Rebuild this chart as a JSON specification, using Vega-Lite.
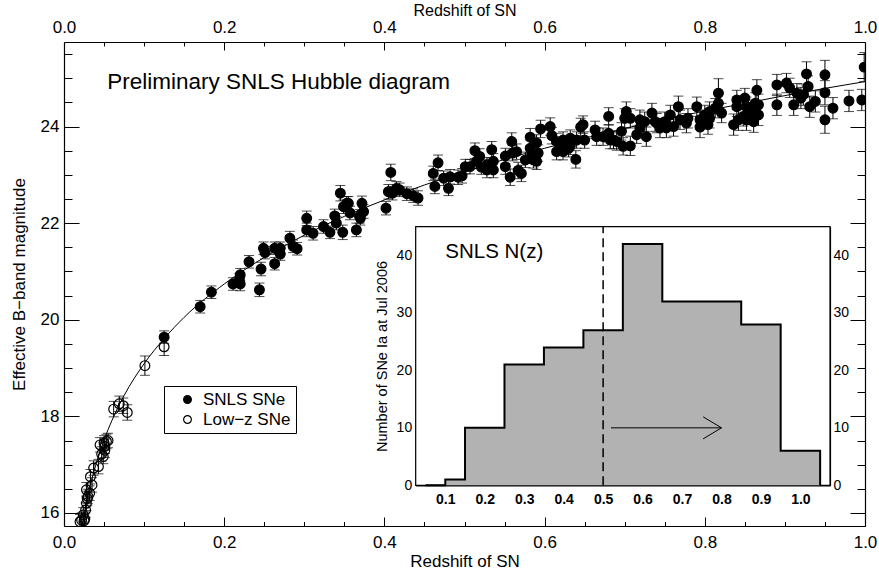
{
"$schema": "https://vega.github.io/schema/vega-lite/v6.json",
"width": 801, "height": 484,
"autosize": {"type": "none"},
"padding": {"left": 64, "top": 42, "right": 14, "bottom": 49},
"background": "white",
"datasets": {
"sne": [
{"z":0.020,"m":15.82,"e":0.15,"s":"Low−z SNe"},{"z":0.022,"m":15.85,"e":0.15,"s":"Low−z SNe"},{"z":0.025,"m":15.84,"e":0.15,"s":"Low−z SNe"},{"z":0.026,"m":15.87,"e":0.15,"s":"Low−z SNe"},{"z":0.024,"m":15.96,"e":0.15,"s":"Low−z SNe"},{"z":0.027,"m":16.06,"e":0.15,"s":"Low−z SNe"},{"z":0.028,"m":16.20,"e":0.15,"s":"Low−z SNe"},{"z":0.029,"m":16.30,"e":0.15,"s":"Low−z SNe"},{"z":0.030,"m":16.34,"e":0.15,"s":"Low−z SNe"},{"z":0.028,"m":16.48,"e":0.15,"s":"Low−z SNe"},{"z":0.032,"m":16.41,"e":0.15,"s":"Low−z SNe"},{"z":0.035,"m":16.58,"e":0.15,"s":"Low−z SNe"},{"z":0.033,"m":16.75,"e":0.15,"s":"Low−z SNe"},{"z":0.037,"m":16.93,"e":0.15,"s":"Low−z SNe"},{"z":0.043,"m":16.96,"e":0.15,"s":"Low−z SNe"},{"z":0.047,"m":17.22,"e":0.15,"s":"Low−z SNe"},{"z":0.049,"m":17.17,"e":0.15,"s":"Low−z SNe"},{"z":0.051,"m":17.30,"e":0.15,"s":"Low−z SNe"},{"z":0.045,"m":17.41,"e":0.15,"s":"Low−z SNe"},{"z":0.050,"m":17.45,"e":0.15,"s":"Low−z SNe"},{"z":0.053,"m":17.48,"e":0.15,"s":"Low−z SNe"},{"z":0.055,"m":17.50,"e":0.15,"s":"Low−z SNe"},{"z":0.051,"m":17.38,"e":0.15,"s":"Low−z SNe"},{"z":0.062,"m":18.15,"e":0.16,"s":"Low−z SNe"},{"z":0.069,"m":18.26,"e":0.16,"s":"Low−z SNe"},{"z":0.074,"m":18.22,"e":0.16,"s":"Low−z SNe"},{"z":0.079,"m":18.08,"e":0.16,"s":"Low−z SNe"},{"z":0.101,"m":19.05,"e":0.2,"s":"Low−z SNe"},{"z":0.125,"m":19.44,"e":0.18,"s":"Low−z SNe"},
{"z":0.125,"m":19.64,"e":0.13,"s":"SNLS SNe"},{"z":0.170,"m":20.27,"e":0.13,"s":"SNLS SNe"},{"z":0.184,"m":20.57,"e":0.13,"s":"SNLS SNe"},{"z":0.211,"m":20.74,"e":0.13,"s":"SNLS SNe"},{"z":0.220,"m":20.74,"e":0.14,"s":"SNLS SNe"},{"z":0.220,"m":20.93,"e":0.13,"s":"SNLS SNe"},{"z":0.219,"m":20.83,"e":0.13,"s":"SNLS SNe"},{"z":0.231,"m":21.20,"e":0.13,"s":"SNLS SNe"},{"z":0.244,"m":20.62,"e":0.14,"s":"SNLS SNe"},{"z":0.246,"m":21.05,"e":0.14,"s":"SNLS SNe"},{"z":0.251,"m":21.39,"e":0.13,"s":"SNLS SNe"},{"z":0.249,"m":21.48,"e":0.13,"s":"SNLS SNe"},{"z":0.263,"m":21.16,"e":0.13,"s":"SNLS SNe"},{"z":0.263,"m":21.48,"e":0.13,"s":"SNLS SNe"},{"z":0.270,"m":21.36,"e":0.13,"s":"SNLS SNe"},{"z":0.270,"m":21.48,"e":0.13,"s":"SNLS SNe"},{"z":0.282,"m":21.69,"e":0.14,"s":"SNLS SNe"},{"z":0.286,"m":21.52,"e":0.13,"s":"SNLS SNe"},{"z":0.291,"m":21.47,"e":0.13,"s":"SNLS SNe"},{"z":0.303,"m":22.10,"e":0.15,"s":"SNLS SNe"},{"z":0.303,"m":21.86,"e":0.14,"s":"SNLS SNe"},{"z":0.311,"m":21.79,"e":0.14,"s":"SNLS SNe"},{"z":0.324,"m":21.93,"e":0.14,"s":"SNLS SNe"},{"z":0.332,"m":21.81,"e":0.13,"s":"SNLS SNe"},{"z":0.338,"m":22.15,"e":0.14,"s":"SNLS SNe"},{"z":0.340,"m":22.00,"e":0.14,"s":"SNLS SNe"},{"z":0.345,"m":22.62,"e":0.16,"s":"SNLS SNe"},{"z":0.348,"m":21.81,"e":0.15,"s":"SNLS SNe"},{"z":0.349,"m":22.34,"e":0.14,"s":"SNLS SNe"},{"z":0.353,"m":22.41,"e":0.14,"s":"SNLS SNe"},{"z":0.355,"m":22.41,"e":0.14,"s":"SNLS SNe"},{"z":0.357,"m":22.21,"e":0.14,"s":"SNLS SNe"},{"z":0.365,"m":21.86,"e":0.14,"s":"SNLS SNe"},{"z":0.369,"m":22.14,"e":0.14,"s":"SNLS SNe"},{"z":0.370,"m":22.10,"e":0.14,"s":"SNLS SNe"},{"z":0.372,"m":22.41,"e":0.15,"s":"SNLS SNe"},{"z":0.374,"m":22.24,"e":0.14,"s":"SNLS SNe"},{"z":0.402,"m":22.31,"e":0.14,"s":"SNLS SNe"},{"z":0.408,"m":23.05,"e":0.17,"s":"SNLS SNe"},{"z":0.405,"m":22.65,"e":0.15,"s":"SNLS SNe"},{"z":0.410,"m":22.62,"e":0.14,"s":"SNLS SNe"},{"z":0.415,"m":22.72,"e":0.14,"s":"SNLS SNe"},{"z":0.419,"m":22.69,"e":0.14,"s":"SNLS SNe"},{"z":0.428,"m":22.61,"e":0.14,"s":"SNLS SNe"},{"z":0.436,"m":22.57,"e":0.14,"s":"SNLS SNe"},{"z":0.442,"m":22.52,"e":0.15,"s":"SNLS SNe"},{"z":0.461,"m":23.03,"e":0.15,"s":"SNLS SNe"},{"z":0.463,"m":22.76,"e":0.15,"s":"SNLS SNe"},{"z":0.467,"m":23.25,"e":0.16,"s":"SNLS SNe"},{"z":0.474,"m":22.93,"e":0.15,"s":"SNLS SNe"},{"z":0.480,"m":22.72,"e":0.15,"s":"SNLS SNe"},{"z":0.482,"m":22.96,"e":0.15,"s":"SNLS SNe"},{"z":0.492,"m":22.95,"e":0.15,"s":"SNLS SNe"},{"z":0.497,"m":22.98,"e":0.15,"s":"SNLS SNe"},{"z":0.501,"m":23.17,"e":0.15,"s":"SNLS SNe"},{"z":0.507,"m":23.17,"e":0.15,"s":"SNLS SNe"},{"z":0.513,"m":23.50,"e":0.16,"s":"SNLS SNe"},{"z":0.515,"m":23.28,"e":0.15,"s":"SNLS SNe"},{"z":0.519,"m":23.38,"e":0.16,"s":"SNLS SNe"},{"z":0.521,"m":23.16,"e":0.15,"s":"SNLS SNe"},{"z":0.528,"m":23.21,"e":0.15,"s":"SNLS SNe"},{"z":0.528,"m":23.10,"e":0.16,"s":"SNLS SNe"},{"z":0.534,"m":23.52,"e":0.17,"s":"SNLS SNe"},{"z":0.536,"m":23.28,"e":0.16,"s":"SNLS SNe"},{"z":0.536,"m":23.10,"e":0.16,"s":"SNLS SNe"},{"z":0.551,"m":23.39,"e":0.16,"s":"SNLS SNe"},{"z":0.551,"m":23.17,"e":0.16,"s":"SNLS SNe"},{"z":0.557,"m":22.95,"e":0.17,"s":"SNLS SNe"},{"z":0.559,"m":23.69,"e":0.18,"s":"SNLS SNe"},{"z":0.560,"m":23.45,"e":0.16,"s":"SNLS SNe"},{"z":0.565,"m":23.48,"e":0.16,"s":"SNLS SNe"},{"z":0.567,"m":23.09,"e":0.17,"s":"SNLS SNe"},{"z":0.571,"m":23.03,"e":0.17,"s":"SNLS SNe"},{"z":0.576,"m":23.31,"e":0.16,"s":"SNLS SNe"},{"z":0.582,"m":23.78,"e":0.18,"s":"SNLS SNe"},{"z":0.582,"m":23.55,"e":0.17,"s":"SNLS SNe"},{"z":0.584,"m":23.41,"e":0.17,"s":"SNLS SNe"},{"z":0.586,"m":23.31,"e":0.17,"s":"SNLS SNe"},{"z":0.590,"m":23.66,"e":0.17,"s":"SNLS SNe"},{"z":0.590,"m":23.28,"e":0.17,"s":"SNLS SNe"},{"z":0.592,"m":23.45,"e":0.17,"s":"SNLS SNe"},{"z":0.595,"m":23.95,"e":0.18,"s":"SNLS SNe"},{"z":0.607,"m":24.00,"e":0.18,"s":"SNLS SNe"},{"z":0.609,"m":23.81,"e":0.17,"s":"SNLS SNe"},{"z":0.615,"m":23.69,"e":0.17,"s":"SNLS SNe"},{"z":0.615,"m":23.48,"e":0.17,"s":"SNLS SNe"},{"z":0.619,"m":23.59,"e":0.17,"s":"SNLS SNe"},{"z":0.623,"m":23.72,"e":0.17,"s":"SNLS SNe"},{"z":0.623,"m":23.48,"e":0.17,"s":"SNLS SNe"},{"z":0.630,"m":23.55,"e":0.18,"s":"SNLS SNe"},{"z":0.632,"m":23.76,"e":0.17,"s":"SNLS SNe"},{"z":0.632,"m":23.59,"e":0.17,"s":"SNLS SNe"},{"z":0.639,"m":23.32,"e":0.18,"s":"SNLS SNe"},{"z":0.640,"m":23.72,"e":0.17,"s":"SNLS SNe"},{"z":0.645,"m":23.99,"e":0.18,"s":"SNLS SNe"},{"z":0.648,"m":24.04,"e":0.18,"s":"SNLS SNe"},{"z":0.650,"m":23.72,"e":0.17,"s":"SNLS SNe"},{"z":0.663,"m":23.93,"e":0.18,"s":"SNLS SNe"},{"z":0.665,"m":23.79,"e":0.18,"s":"SNLS SNe"},{"z":0.673,"m":23.79,"e":0.18,"s":"SNLS SNe"},{"z":0.680,"m":24.21,"e":0.18,"s":"SNLS SNe"},{"z":0.680,"m":23.86,"e":0.18,"s":"SNLS SNe"},{"z":0.682,"m":23.72,"e":0.18,"s":"SNLS SNe"},{"z":0.686,"m":23.72,"e":0.18,"s":"SNLS SNe"},{"z":0.690,"m":23.69,"e":0.18,"s":"SNLS SNe"},{"z":0.696,"m":23.90,"e":0.18,"s":"SNLS SNe"},{"z":0.698,"m":23.59,"e":0.18,"s":"SNLS SNe"},{"z":0.700,"m":24.17,"e":0.2,"s":"SNLS SNe"},{"z":0.702,"m":24.31,"e":0.2,"s":"SNLS SNe"},{"z":0.707,"m":24.17,"e":0.2,"s":"SNLS SNe"},{"z":0.707,"m":23.60,"e":0.2,"s":"SNLS SNe"},{"z":0.715,"m":23.83,"e":0.18,"s":"SNLS SNe"},{"z":0.719,"m":23.97,"e":0.18,"s":"SNLS SNe"},{"z":0.719,"m":24.14,"e":0.2,"s":"SNLS SNe"},{"z":0.725,"m":24.10,"e":0.2,"s":"SNLS SNe"},{"z":0.727,"m":23.79,"e":0.2,"s":"SNLS SNe"},{"z":0.734,"m":24.28,"e":0.2,"s":"SNLS SNe"},{"z":0.738,"m":24.10,"e":0.2,"s":"SNLS SNe"},{"z":0.740,"m":24.07,"e":0.2,"s":"SNLS SNe"},{"z":0.744,"m":23.97,"e":0.2,"s":"SNLS SNe"},{"z":0.750,"m":24.10,"e":0.2,"s":"SNLS SNe"},{"z":0.752,"m":23.97,"e":0.2,"s":"SNLS SNe"},{"z":0.757,"m":24.24,"e":0.2,"s":"SNLS SNe"},{"z":0.761,"m":24.00,"e":0.2,"s":"SNLS SNe"},{"z":0.767,"m":24.41,"e":0.22,"s":"SNLS SNe"},{"z":0.769,"m":24.14,"e":0.2,"s":"SNLS SNe"},{"z":0.777,"m":24.07,"e":0.2,"s":"SNLS SNe"},{"z":0.779,"m":24.17,"e":0.2,"s":"SNLS SNe"},{"z":0.790,"m":24.41,"e":0.2,"s":"SNLS SNe"},{"z":0.794,"m":23.99,"e":0.22,"s":"SNLS SNe"},{"z":0.794,"m":24.14,"e":0.2,"s":"SNLS SNe"},{"z":0.800,"m":24.24,"e":0.2,"s":"SNLS SNe"},{"z":0.804,"m":24.04,"e":0.2,"s":"SNLS SNe"},{"z":0.806,"m":24.17,"e":0.2,"s":"SNLS SNe"},{"z":0.806,"m":24.31,"e":0.2,"s":"SNLS SNe"},{"z":0.813,"m":24.38,"e":0.2,"s":"SNLS SNe"},{"z":0.817,"m":24.69,"e":0.3,"s":"SNLS SNe"},{"z":0.817,"m":24.48,"e":0.22,"s":"SNLS SNe"},{"z":0.821,"m":24.28,"e":0.2,"s":"SNLS SNe"},{"z":0.836,"m":24.04,"e":0.22,"s":"SNLS SNe"},{"z":0.840,"m":24.55,"e":0.2,"s":"SNLS SNe"},{"z":0.840,"m":24.41,"e":0.2,"s":"SNLS SNe"},{"z":0.842,"m":24.14,"e":0.22,"s":"SNLS SNe"},{"z":0.848,"m":24.21,"e":0.2,"s":"SNLS SNe"},{"z":0.850,"m":24.59,"e":0.2,"s":"SNLS SNe"},{"z":0.852,"m":24.14,"e":0.22,"s":"SNLS SNe"},{"z":0.852,"m":24.41,"e":0.2,"s":"SNLS SNe"},{"z":0.856,"m":24.24,"e":0.2,"s":"SNLS SNe"},{"z":0.861,"m":24.35,"e":0.2,"s":"SNLS SNe"},{"z":0.861,"m":24.10,"e":0.22,"s":"SNLS SNe"},{"z":0.863,"m":24.48,"e":0.22,"s":"SNLS SNe"},{"z":0.865,"m":24.75,"e":0.22,"s":"SNLS SNe"},{"z":0.867,"m":24.24,"e":0.22,"s":"SNLS SNe"},{"z":0.867,"m":24.45,"e":0.22,"s":"SNLS SNe"},{"z":0.890,"m":24.86,"e":0.22,"s":"SNLS SNe"},{"z":0.890,"m":24.45,"e":0.22,"s":"SNLS SNe"},{"z":0.902,"m":24.90,"e":0.2,"s":"SNLS SNe"},{"z":0.906,"m":24.80,"e":0.2,"s":"SNLS SNe"},{"z":0.911,"m":24.45,"e":0.22,"s":"SNLS SNe"},{"z":0.915,"m":24.69,"e":0.2,"s":"SNLS SNe"},{"z":0.920,"m":24.59,"e":0.22,"s":"SNLS SNe"},{"z":0.923,"m":24.66,"e":0.22,"s":"SNLS SNe"},{"z":0.927,"m":25.09,"e":0.25,"s":"SNLS SNe"},{"z":0.929,"m":24.83,"e":0.22,"s":"SNLS SNe"},{"z":0.931,"m":24.41,"e":0.22,"s":"SNLS SNe"},{"z":0.938,"m":24.52,"e":0.22,"s":"SNLS SNe"},{"z":0.950,"m":25.07,"e":0.3,"s":"SNLS SNe"},{"z":0.950,"m":24.70,"e":0.25,"s":"SNLS SNe"},{"z":0.950,"m":24.14,"e":0.28,"s":"SNLS SNe"},{"z":0.960,"m":24.38,"e":0.22,"s":"SNLS SNe"},{"z":0.980,"m":24.53,"e":0.22,"s":"SNLS SNe"},{"z":0.996,"m":24.55,"e":0.22,"s":"SNLS SNe"},{"z":0.999,"m":25.23,"e":0.3,"s":"SNLS SNe"}
],
"curve": [
{"z":0.02,"m":15.47},{"z":0.025,"m":15.96},{"z":0.03,"m":16.37},{"z":0.04,"m":17.01},{"z":0.05,"m":17.51},{"z":0.06,"m":17.92},{"z":0.075,"m":18.43},{"z":0.1,"m":19.09},{"z":0.125,"m":19.61},{"z":0.15,"m":20.05},{"z":0.2,"m":20.74},{"z":0.25,"m":21.29},{"z":0.3,"m":21.75},{"z":0.35,"m":22.14},{"z":0.4,"m":22.48},{"z":0.45,"m":22.79},{"z":0.5,"m":23.06},{"z":0.55,"m":23.32},{"z":0.6,"m":23.55},{"z":0.65,"m":23.76},{"z":0.7,"m":23.96},{"z":0.75,"m":24.15},{"z":0.8,"m":24.32},{"z":0.85,"m":24.48},{"z":0.9,"m":24.64},{"z":0.95,"m":24.79},{"z":1.0,"m":24.93}
],
"hist": [
{"lo":0.05,"hi":0.10,"n":0},{"lo":0.10,"hi":0.15,"n":1},{"lo":0.15,"hi":0.25,"n":10},{"lo":0.25,"hi":0.35,"n":21},{"lo":0.35,"hi":0.45,"n":24},{"lo":0.45,"hi":0.55,"n":27},{"lo":0.55,"hi":0.65,"n":42},{"lo":0.65,"hi":0.75,"n":32},{"lo":0.75,"hi":0.85,"n":32},{"lo":0.85,"hi":0.95,"n":28},{"lo":0.95,"hi":1.05,"n":6},{"lo":1.05,"hi":1.15,"n":0}
]
},
"layer": [
{
 "data": {"name": "curve"},
 "mark": {"type": "point", "opacity": 0},
 "encoding": {
  "x": {"field": "z", "type": "quantitative", "scale": {"domain": [0, 1], "nice": false, "zero": false},
        "axis": {"orient": "bottom", "offset": 0, "values": [0.05,0.1,0.15,0.25,0.3,0.35,0.45,0.5,0.55,0.65,0.7,0.75,0.85,0.9,0.95], "tickSize": -4.5, "labels": false, "domain": false, "title": null}},
  "y": {"field": "m", "type": "quantitative", "scale": {"domain": [15.73, 25.75], "nice": false, "zero": false},
        "axis": {"orient": "left", "offset": 0, "values": [16.5,17,17.5,18.5,19,19.5,20.5,21,21.5,22.5,23,23.5,24.5,25,25.5], "tickSize": -8, "labels": false, "domain": false, "title": null}}
 }
},
{
 "data": {"name": "curve"},
 "mark": {"type": "point", "opacity": 0},
 "encoding": {
  "x": {"field": "z", "type": "quantitative", "scale": {"domain": [0, 1], "nice": false, "zero": false},
        "axis": {"orient": "top", "offset": 0, "values": [0,0.2,0.4,0.6,0.8,1], "format": ".1f", "tickSize": -8, "labelPadding": 14, "title": "Redshift of SN", "titleFontSize": 16, "titlePadding": 0}},
  "y": {"field": "m", "type": "quantitative", "scale": {"domain": [15.73, 25.75], "nice": false, "zero": false},
        "axis": {"orient": "right", "offset": 0, "values": [16,18,20,22,24], "tickSize": -15, "labels": false, "title": null}}
 }
},
{
 "data": {"name": "curve"},
 "mark": {"type": "point", "opacity": 0},
 "encoding": {
  "x": {"field": "z", "type": "quantitative", "scale": {"domain": [0, 1], "nice": false, "zero": false},
        "axis": {"orient": "top", "offset": 0, "values": [0.05,0.1,0.15,0.25,0.3,0.35,0.45,0.5,0.55,0.65,0.7,0.75,0.85,0.9,0.95], "tickSize": -4, "labels": false, "domain": false, "title": null}},
  "y": {"field": "m", "type": "quantitative", "scale": {"domain": [15.73, 25.75], "nice": false, "zero": false},
        "axis": {"orient": "right", "offset": 0, "values": [16.5,17,17.5,18.5,19,19.5,20.5,21,21.5,22.5,23,23.5,24.5,25,25.5], "tickSize": -8, "labels": false, "domain": false, "title": null}}
 }
},
{
 "data": {"name": "curve"},
 "mark": {"type": "line", "color": "black", "strokeWidth": 1, "interpolate": "monotone", "clip": true},
 "encoding": {
  "x": {"field": "z", "type": "quantitative", "scale": {"domain": [0, 1], "nice": false, "zero": false},
        "axis": {"orient": "bottom", "offset": 0, "values": [0,0.2,0.4,0.6,0.8,1], "format": ".1f", "tickSize": -9, "labelPadding": 17, "title": "Redshift of SN", "titlePadding": 3}},
  "y": {"field": "m", "type": "quantitative", "scale": {"domain": [15.73, 25.75], "nice": false, "zero": false},
        "axis": {"orient": "left", "offset": 0, "values": [16,18,20,22,24], "format": "d", "tickSize": -15, "labelPadding": 20, "title": "Effective B−band magnitude", "titlePadding": 12}}
 }
},
{
 "data": {"name": "sne"},
 "mark": {"type": "errorbar", "ticks": true, "size": 10, "thickness": 1, "color": "black", "clip": true},
 "encoding": {
  "x": {"field": "z", "type": "quantitative", "scale": {"domain": [0, 1], "nice": false, "zero": false}, "axis": null},
  "y": {"field": "m", "type": "quantitative", "scale": {"domain": [15.73, 25.75], "nice": false, "zero": false}, "axis": null},
  "yError": {"field": "e"}
 }
},
{
 "data": {"name": "sne"},
 "mark": {"type": "point", "filled": true, "size": 95, "stroke": "black", "strokeWidth": 1.2, "opacity": 1, "clip": true},
 "encoding": {
  "x": {"field": "z", "type": "quantitative", "scale": {"domain": [0, 1], "nice": false, "zero": false}, "axis": null},
  "y": {"field": "m", "type": "quantitative", "scale": {"domain": [15.73, 25.75], "nice": false, "zero": false}, "axis": null},
  "fill": {"field": "s", "type": "nominal", "scale": {"domain": ["SNLS SNe", "Low−z SNe"], "range": ["black", "transparent"]},
           "legend": {"orient": "none", "legendX": 100, "legendY": 344, "title": null}}
 }
},
{
 "data": {"values": [{}]},
 "mark": {"type": "text", "text": "Preliminary SNLS Hubble diagram", "fontSize": 22.5, "align": "left", "baseline": "alphabetic", "color": "black"},
 "encoding": {
  "x": {"datum": 0.054, "type": "quantitative", "scale": {"domain": [0, 1], "nice": false, "zero": false}, "axis": null},
  "y": {"datum": 24.775, "type": "quantitative", "scale": {"domain": [15.73, 25.75], "nice": false, "zero": false}, "axis": null}
 }
},
{
 "data": {"values": [{}]},
 "mark": {"type": "rect", "fill": "white", "stroke": "black", "strokeWidth": 1.2},
 "encoding": {
  "x": {"datum": 0.025, "type": "quantitative", "scale": {"domain": [0.025, 1.075], "range": [351.7, 766], "nice": false, "zero": false}, "axis": null},
  "x2": {"datum": 1.075},
  "y": {"datum": 0, "type": "quantitative", "scale": {"domain": [0, 45], "range": [443.3, 184.7], "nice": false, "zero": false}, "axis": null},
  "y2": {"datum": 45}
 }
},
{
 "data": {"name": "hist"},
 "mark": {"type": "area", "interpolate": "step-after", "fill": "#b2b2b2", "opacity": 1, "clip": true, "line": {"color": "black", "strokeWidth": 2}},
 "encoding": {
  "x": {"field": "lo", "type": "quantitative", "scale": {"domain": [0.025, 1.075], "range": [351.7, 766], "nice": false, "zero": false},
        "axis": {"orient": "bottom", "offset": -40.7, "values": [0.1,0.2,0.3,0.4,0.5,0.6,0.7,0.8,0.9,1.0], "format": ".1f", "tickSize": -6, "labelPadding": 13, "labelFontSize": 14, "labelFontWeight": "bold", "title": null}},
  "y": {"field": "n", "type": "quantitative", "scale": {"domain": [0, 45], "range": [443.3, 184.7], "nice": false, "zero": false},
        "axis": {"orient": "left", "offset": -351.7, "values": [0,10,20,30,40], "format": "d", "tickSize": -8, "labelPadding": 12, "labelFontSize": 14, "title": "Number of SNe Ia at Jul 2006", "titleFontSize": 14.5, "titlePadding": 7}}
 }
},
{
 "data": {"name": "hist"},
 "mark": {"type": "point", "opacity": 0},
 "encoding": {
  "x": {"field": "lo", "type": "quantitative", "scale": {"domain": [0.025, 1.075], "range": [351.7, 766], "nice": false, "zero": false},
        "axis": {"orient": "bottom", "offset": -40.7, "values": [0.05,0.075,0.125,0.15,0.175,0.225,0.25,0.275,0.325,0.35,0.375,0.425,0.45,0.475,0.525,0.55,0.575,0.625,0.65,0.675,0.725,0.75,0.775,0.825,0.85,0.875,0.925,0.95,0.975,1.025,1.05], "tickSize": -3, "labels": false, "domain": false, "title": null}},
  "y": {"field": "n", "type": "quantitative", "scale": {"domain": [0, 45], "range": [443.3, 184.7], "nice": false, "zero": false},
        "axis": {"orient": "left", "offset": -351.7, "values": [2,4,6,8,12,14,16,18,22,24,26,28,32,34,36,38,42,44], "tickSize": -4.5, "labels": false, "domain": false, "title": null}}
 }
},
{
 "data": {"name": "hist"},
 "mark": {"type": "point", "opacity": 0},
 "encoding": {
  "x": {"field": "lo", "type": "quantitative", "scale": {"domain": [0.025, 1.075], "range": [351.7, 766], "nice": false, "zero": false},
        "axis": {"orient": "top", "offset": -184.7, "values": [0.1,0.2,0.3,0.4,0.5,0.6,0.7,0.8,0.9,1.0], "tickSize": -6, "labels": false, "title": null}},
  "y": {"field": "n", "type": "quantitative", "scale": {"domain": [0, 45], "range": [443.3, 184.7], "nice": false, "zero": false},
        "axis": {"orient": "right", "offset": -35, "values": [0,10,20,30,40], "format": "d", "tickSize": -8, "labelPadding": 11, "labelFontSize": 14, "title": null}}
 }
},
{
 "data": {"name": "hist"},
 "mark": {"type": "point", "opacity": 0},
 "encoding": {
  "x": {"field": "lo", "type": "quantitative", "scale": {"domain": [0.025, 1.075], "range": [351.7, 766], "nice": false, "zero": false},
        "axis": {"orient": "top", "offset": -184.7, "values": [0.05,0.075,0.125,0.15,0.175,0.225,0.25,0.275,0.325,0.35,0.375,0.425,0.45,0.475,0.525,0.55,0.575,0.625,0.65,0.675,0.725,0.75,0.775,0.825,0.85,0.875,0.925,0.95,0.975,1.025,1.05], "tickSize": -3, "labels": false, "domain": false, "title": null}},
  "y": {"field": "n", "type": "quantitative", "scale": {"domain": [0, 45], "range": [443.3, 184.7], "nice": false, "zero": false},
        "axis": {"orient": "right", "offset": -35, "values": [2,4,6,8,12,14,16,18,22,24,26,28,32,34,36,38,42,44], "tickSize": -4.5, "labels": false, "domain": false, "title": null}}
 }
},
{
 "data": {"values": [{}]},
 "mark": {"type": "rule", "color": "black", "strokeWidth": 1.5, "strokeDash": [9, 5]},
 "encoding": {
  "x": {"datum": 0.5, "type": "quantitative", "scale": {"domain": [0.025, 1.075], "range": [351.7, 766], "nice": false, "zero": false}, "axis": null},
  "y": {"datum": 0, "type": "quantitative", "scale": {"domain": [0, 45], "range": [443.3, 184.7], "nice": false, "zero": false}, "axis": null},
  "y2": {"datum": 45}
 }
},
{
 "data": {"values": [{}]},
 "mark": {"type": "rule", "color": "black", "strokeWidth": 1},
 "encoding": {
  "x": {"datum": 0.52, "type": "quantitative", "scale": {"domain": [0.025, 1.075], "range": [351.7, 766], "nice": false, "zero": false}, "axis": null},
  "x2": {"datum": 0.8},
  "y": {"datum": 10, "type": "quantitative", "scale": {"domain": [0, 45], "range": [443.3, 184.7], "nice": false, "zero": false}, "axis": null}
 }
},
{
 "data": {"values": [{}]},
 "mark": {"type": "point", "shape": "M-1,-0.6L0,0L-1,0.6", "size": 1340, "filled": false, "stroke": "black", "strokeWidth": 1, "opacity": 1},
 "encoding": {
  "x": {"datum": 0.8, "type": "quantitative", "scale": {"domain": [0.025, 1.075], "range": [351.7, 766], "nice": false, "zero": false}, "axis": null},
  "y": {"datum": 10, "type": "quantitative", "scale": {"domain": [0, 45], "range": [443.3, 184.7], "nice": false, "zero": false}, "axis": null}
 }
},
{
 "data": {"values": [{}]},
 "mark": {"type": "text", "text": "SNLS N(z)", "fontSize": 20.5, "align": "left", "baseline": "alphabetic", "color": "black"},
 "encoding": {
  "x": {"datum": 0.1, "type": "quantitative", "scale": {"domain": [0.025, 1.075], "range": [351.7, 766], "nice": false, "zero": false}, "axis": null},
  "y": {"datum": 39.5, "type": "quantitative", "scale": {"domain": [0, 45], "range": [443.3, 184.7], "nice": false, "zero": false}, "axis": null}
 }
}
],
"resolve": {"scale": {"x": "independent", "y": "independent"}, "axis": {"x": "independent", "y": "independent"}},
"config": {
 "font": "Liberation Sans",
 "view": {"stroke": null},
 "axis": {"grid": false, "domainColor": "black", "tickColor": "black", "labelColor": "black", "titleColor": "black", "labelFont": "Liberation Sans", "titleFont": "Liberation Sans", "titleFontWeight": "normal", "labelFlush": false, "labelOverlap": false, "labelBound": false, "zindex": 1, "domainWidth": 1.2, "tickWidth": 1, "labelFontSize": 17, "titleFontSize": 17},
 "legend": {"labelFontSize": 17, "labelFont": "Liberation Sans", "labelColor": "black", "symbolType": "circle", "symbolSize": 60, "symbolStrokeColor": "black", "symbolStrokeWidth": 1.2, "strokeColor": "black", "fillColor": "white", "padding": 5, "rowPadding": 2, "labelOffset": 7, "symbolOffset": 10, "cornerRadius": 0}
}
}
